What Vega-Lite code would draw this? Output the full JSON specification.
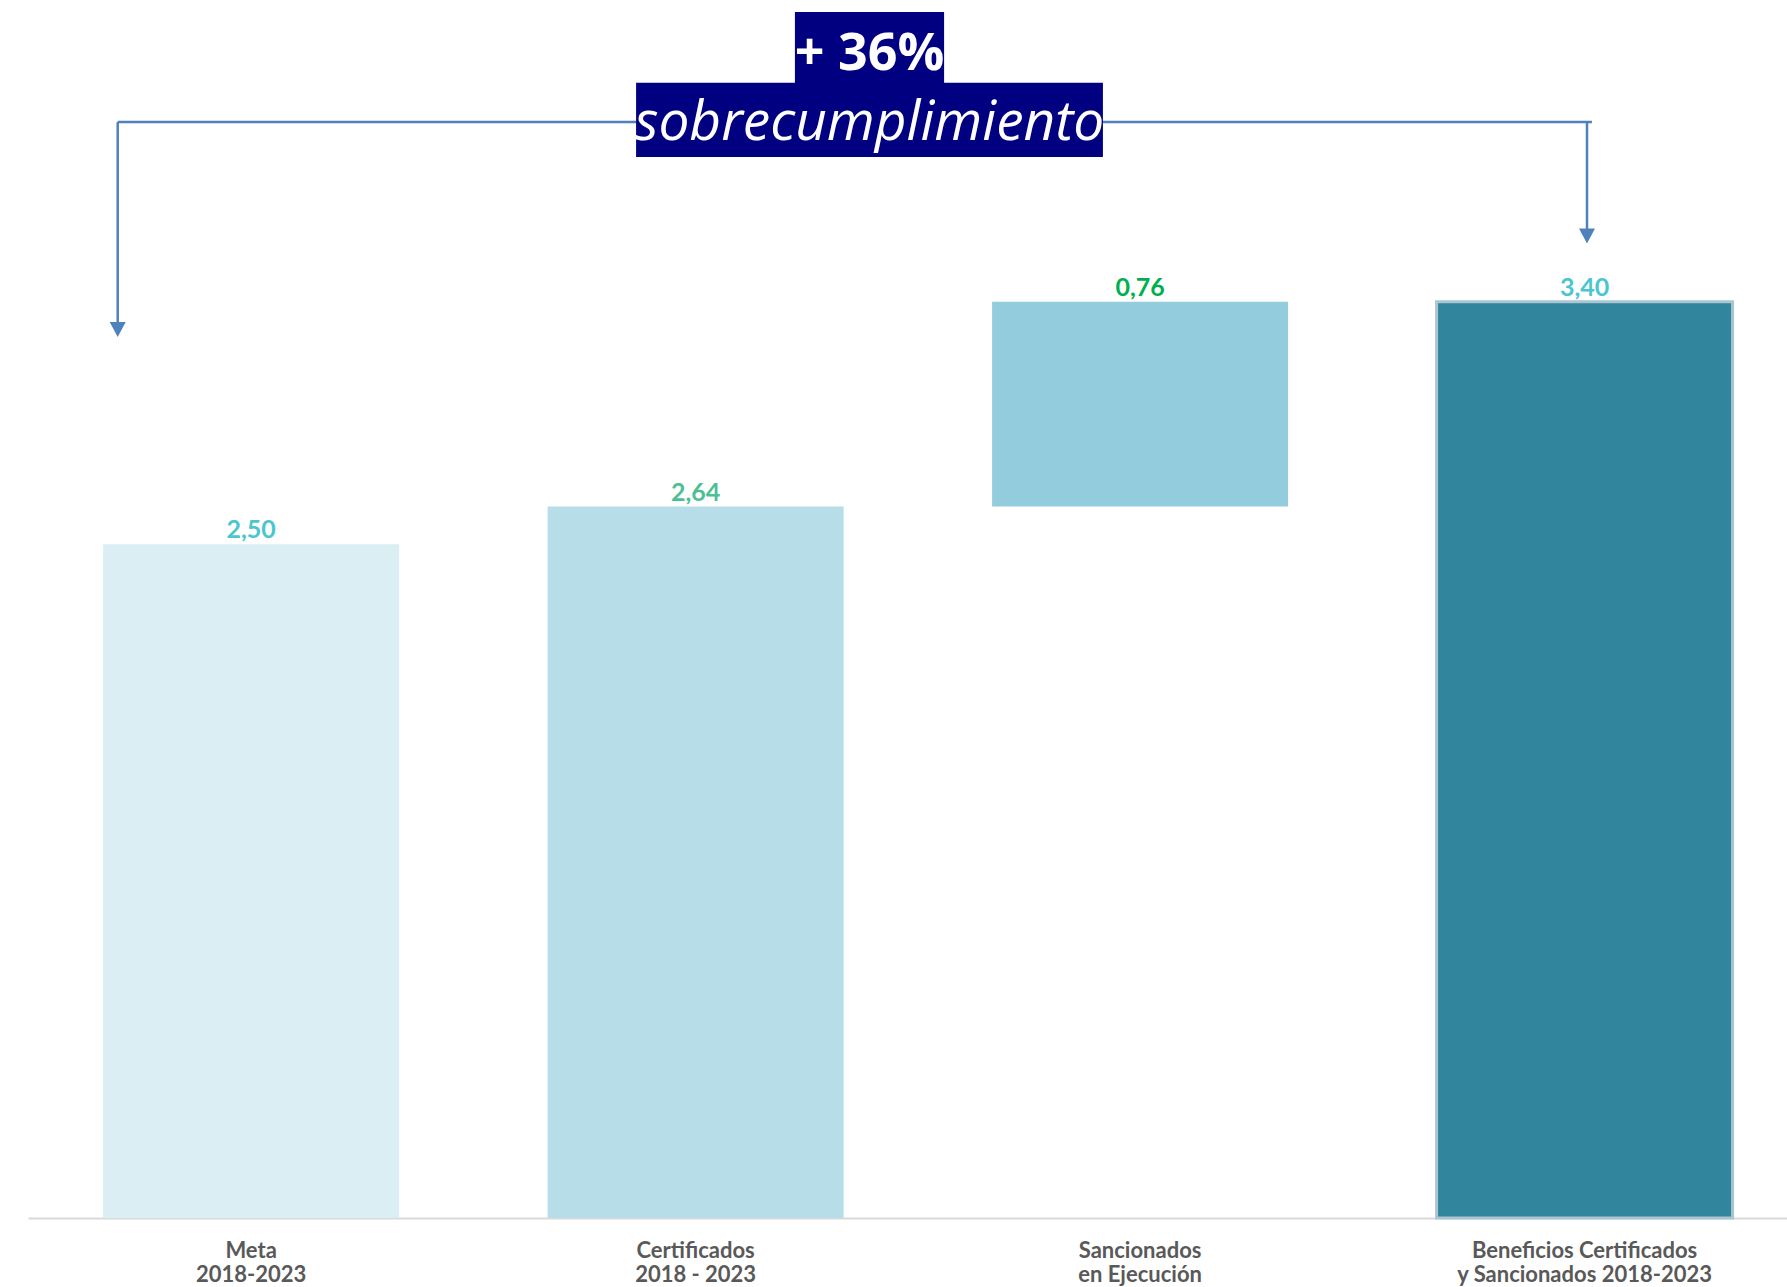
{
  "$schema": "https://vega.github.io/schema/vega-lite/v6.json",
  "width": 1759,
  "height": 1218,
  "autosize": {"type": "none"},
  "padding": {"left": 28, "top": 0, "right": 0, "bottom": 69},
  "config": {
    "view": {"stroke": null},
    "locale": {"number": {"decimal": ",", "thousands": ".", "grouping": [3], "currency": ["", "€"]}}
  },
  "data": {
    "values": [
      {"cat": "Meta|2018-2023", "start": 0, "end": 2.50, "delta": 2.50},
      {"cat": "Certificados|2018 - 2023", "start": 0, "end": 2.64, "delta": 2.64},
      {"cat": "Sancionados|en Ejecución", "start": 2.64, "end": 3.40, "delta": 0.76},
      {"cat": "Beneficios Certificados|y Sancionados 2018-2023", "start": 0, "end": 3.40, "delta": 3.40}
    ]
  },
  "layer": [
    {
      "layer": [
        {
          "mark": {"type": "bar"},
          "encoding": {
            "x": {
              "field": "cat", "type": "nominal", "sort": null, "title": null,
              "scale": {"type": "band", "paddingInner": 0.334, "paddingOuter": 0.1457, "align": 0.58},
              "axis": {
                "labelExpr": "split(datum.label, '|')",
                "labelFont": "Lato", "labelFontWeight": "bold", "labelFontSize": 22,
                "labelColor": "#595959", "labelAngle": 0, "labelBaseline": "top",
                "labelPadding": 22, "labelLineHeight": 24, "labelLimit": 400,
                "ticks": false, "domainColor": "#d9d9d9", "domainWidth": 2, "grid": false
              }
            },
            "y": {"field": "start", "type": "quantitative", "scale": {"domain": [0, 4.52], "nice": false}, "axis": null},
            "y2": {"field": "end"},
            "color": {
              "field": "cat", "type": "nominal", "sort": null, "legend": null,
              "scale": {
                "domain": ["Meta|2018-2023", "Certificados|2018 - 2023", "Sancionados|en Ejecución", "Beneficios Certificados|y Sancionados 2018-2023"],
                "range": ["#DBEEF4", "#B7DDE8", "#93CDDD", "#31859C"]
              }
            },
            "stroke": {
              "condition": {"test": "indexof(datum.cat, 'Beneficios') >= 0", "value": "#a9c6d1"},
              "value": "transparent"
            },
            "strokeWidth": {"value": 3},
            "opacity": {"value": 1}
          }
        },
        {
          "mark": {"type": "text", "font": "Lato", "fontWeight": "bold", "fontSize": 25, "baseline": "alphabetic", "align": "center", "dy": -6},
          "encoding": {
            "x": {"field": "cat", "type": "nominal", "sort": null},
            "y": {"field": "end", "type": "quantitative"},
            "text": {"field": "delta", "type": "quantitative", "format": ".2f"},
            "color": {
              "field": "cat", "type": "nominal", "sort": null, "legend": null,
              "scale": {
                "domain": ["Meta|2018-2023", "Certificados|2018 - 2023", "Sancionados|en Ejecución", "Beneficios Certificados|y Sancionados 2018-2023"],
                "range": ["#4BC6CF", "#4DBF94", "#00B050", "#4BC6CF"]
              }
            }
          }
        }
      ],
      "resolve": {"scale": {"color": "independent"}}
    },
    {
      "data": {"values": [{}]},
      "mark": {"type": "rule", "color": "#4F81BD", "strokeWidth": 2.5},
      "encoding": {
        "x": {"datum": 0.051, "type": "quantitative", "scale": {"domain": [0, 1]}, "axis": null},
        "x2": {"datum": 0.8891},
        "y": {"datum": 4.067, "type": "quantitative"}
      }
    },
    {
      "data": {"values": [{}]},
      "mark": {"type": "rule", "color": "#4F81BD", "strokeWidth": 2.5},
      "encoding": {
        "x": {"datum": 0.051, "type": "quantitative", "scale": {"domain": [0, 1]}, "axis": null},
        "y": {"datum": 4.067, "type": "quantitative"},
        "y2": {"datum": 3.31}
      }
    },
    {
      "data": {"values": [{}]},
      "mark": {"type": "rule", "color": "#4F81BD", "strokeWidth": 2.5},
      "encoding": {
        "x": {"datum": 0.8863, "type": "quantitative", "scale": {"domain": [0, 1]}, "axis": null},
        "y": {"datum": 4.067, "type": "quantitative"},
        "y2": {"datum": 3.66}
      }
    },
    {
      "data": {"values": [{}]},
      "mark": {"type": "point", "shape": "M-1,-0.94L1,-0.94L0,0.94Z", "filled": true, "size": 256, "color": "#4F81BD", "opacity": 1, "strokeWidth": 0},
      "encoding": {
        "x": {"datum": 0.051, "type": "quantitative", "scale": {"domain": [0, 1]}, "axis": null},
        "y": {"datum": 3.297, "type": "quantitative"}
      }
    },
    {
      "data": {"values": [{}]},
      "mark": {"type": "point", "shape": "M-1,-0.94L1,-0.94L0,0.94Z", "filled": true, "size": 256, "color": "#4F81BD", "opacity": 1, "strokeWidth": 0},
      "encoding": {
        "x": {"datum": 0.8863, "type": "quantitative", "scale": {"domain": [0, 1]}, "axis": null},
        "y": {"datum": 3.644, "type": "quantitative"}
      }
    },
    {
      "data": {"values": [{}]},
      "mark": {"type": "rect", "color": "#000080", "opacity": 1},
      "encoding": {
        "x": {"datum": 0.4360, "type": "quantitative", "scale": {"domain": [0, 1]}, "axis": null},
        "x2": {"datum": 0.5208},
        "y": {"datum": 4.4756, "type": "quantitative"},
        "y2": {"datum": 4.2121}
      }
    },
    {
      "data": {"values": [{}]},
      "mark": {"type": "rect", "color": "#000080", "opacity": 1},
      "encoding": {
        "x": {"datum": 0.3457, "type": "quantitative", "scale": {"domain": [0, 1]}, "axis": null},
        "x2": {"datum": 0.6111},
        "y": {"datum": 4.2130, "type": "quantitative"},
        "y2": {"datum": 3.9374}
      }
    },
    {
      "data": {"values": [{"t": "+ 36%"}]},
      "mark": {"type": "text", "font": "Open Sans", "fontWeight": "bold", "fontSize": 52, "color": "#ffffff", "align": "center", "baseline": "alphabetic"},
      "encoding": {
        "x": {"datum": 0.4784, "type": "quantitative", "scale": {"domain": [0, 1]}, "axis": null},
        "y": {"datum": 4.2602, "type": "quantitative"},
        "text": {"field": "t"}
      }
    },
    {
      "data": {"values": [{"t": "sobrecumplimiento"}]},
      "mark": {"type": "text", "font": "Open Sans", "fontStyle": "italic", "fontSize": 55, "color": "#ffffff", "align": "center", "baseline": "alphabetic"},
      "encoding": {
        "x": {"datum": 0.4784, "type": "quantitative", "scale": {"domain": [0, 1]}, "axis": null},
        "y": {"datum": 4.0004, "type": "quantitative"},
        "text": {"field": "t"}
      }
    }
  ],
  "resolve": {"scale": {"x": "independent", "color": "independent"}}
}
